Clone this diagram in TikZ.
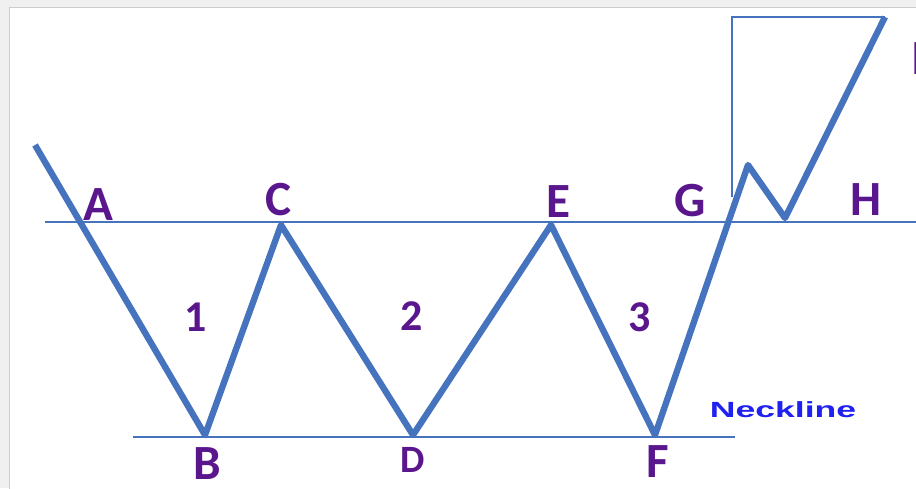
\documentclass[tikz,border=0pt]{standalone}
\usepackage{fontspec}
\newfontfamily\lblfont{Carlito}
\newfontfamily\neckfont{Liberation Sans}
\usetikzlibrary{positioning}
\definecolor{waveblue}{HTML}{4673BE}
\definecolor{lblpurple}{HTML}{5A168C}
\definecolor{neckblue}{HTML}{2020F0}

\begin{document}
\begin{tikzpicture}[x=0.02cm, y=-0.02cm,
  wave/.style={draw=waveblue, line width=3.6pt, line join=round},
  guide/.style={draw=waveblue, line width=0.8pt},
  lbl/.style={font=\lblfont\bfseries\fontsize{28}{30}\selectfont,
    text=lblpurple, inner sep=0pt},
  num/.style={lbl, font=\lblfont\bfseries\fontsize{25}{27}\selectfont},
]

%% Frame
\useasboundingbox (0,0) rectangle (916,488);
\fill[gray!12] (0,0) rectangle (916,488);
\draw[gray!40, fill=white, line width=0.5pt] (9,7) rectangle (930,500);

%% Turning points
\coordinate (start) at (35,145);
\coordinate (b) at (205,435);
\coordinate (c) at (281,225);
\coordinate (d) at (413,435);
\coordinate (e) at (551,225);
\coordinate (f) at (655,435);
\coordinate (peak) at (748,165);
\coordinate (h) at (785,218);
\coordinate (top) at (885,17);

%% Resistance and neckline
\coordinate (resL) at (45,222);
\coordinate (resR) at (920,222);
\coordinate (neckL) at (133,437);
\coordinate (neckR) at (735,437);
\draw[guide] (resL) -- (resR);
\draw[guide] (neckL) -- (neckR);

%% Target box
\coordinate (boxB) at (732,197);
\coordinate (boxT) at (732,17);
\draw[guide] (boxB) -- (boxT) -- (top);

%% Price path
\draw[wave] (start) -- (b) -- (c) -- (d) -- (e) -- (f) -- (peak) -- (h) -- (top);

%% Labels
\node[lbl] (la) at (98,205) {A};
\node[lbl] (lc) at (279,200) {C};
\node[lbl] (le) at (558,202) {E};
\node[lbl] (lg) at (690,201) {G};
\node[lbl] (lh) at (866,200) {H};
\node[lbl] (lb) at (207,464) {B};
\node[lbl, font=\lblfont\bfseries\fontsize{22}{24}\selectfont] (ld) at (413,460) {D};
\node[lbl] (lf) at (658,462) {F};
\node[lbl, anchor=west] (li) at (911,59) {I};
\node[num] (n1) at (196,317) {1};
\node[num] (n2) at (412,316) {2};
\node[num] (n3) at (640,317) {3};
\node[font=\neckfont\bfseries\fontsize{12.5}{14}\selectfont, text=neckblue]
  (neck) at (783,410) {\scalebox{1.62}[1]{Neckline}};

\end{tikzpicture}
\end{document}
